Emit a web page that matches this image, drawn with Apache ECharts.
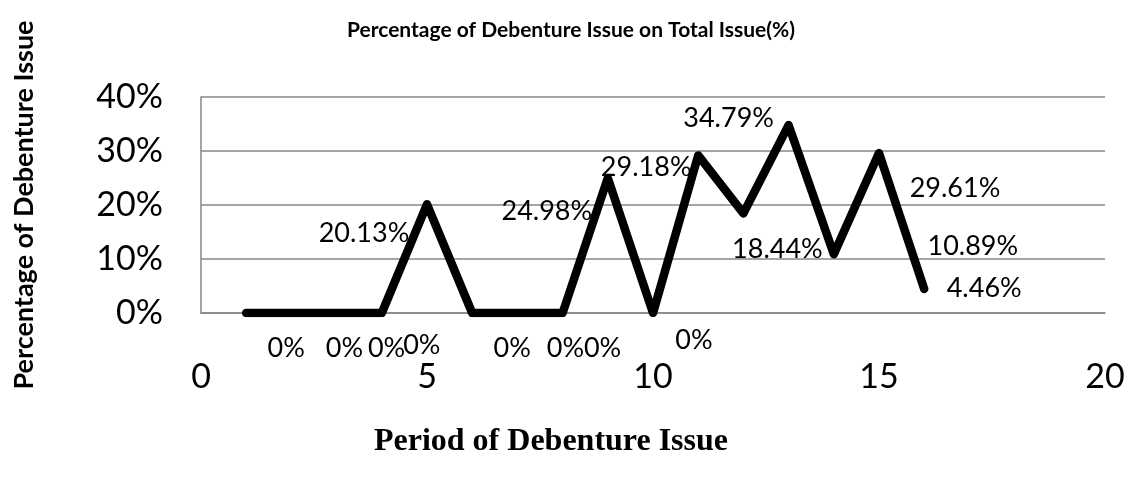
<!DOCTYPE html>
<html>
<head>
<meta charset="utf-8">
<script src="https://cdn.jsdelivr.net/npm/echarts@6/dist/echarts.min.js"></script>
<style>
  html, body { margin: 0; padding: 0; background: #ffffff; }
  #chart { width: 1140px; height: 477px; }
</style>
</head>
<body>
<div id="chart"></div>
<script>
// Period number vs. share of debenture issue (%)
const periods = [1, 2, 3, 4, 5, 6, 7, 8, 9, 10, 11, 12, 13, 14, 15, 16];
const debenturePct = [0, 0, 0, 0, 20.13, 0, 0, 0, 24.98, 0, 29.18, 18.44, 34.79, 10.89, 29.61, 4.46];
const xTicks = [0, 5, 10, 15, 20];
const yTicks = [0, 10, 20, 30, 40];

// label nudges (px) so each value label sits where the original put it
const labelNudge = [
  [40, 35], [53, 35], [50, 35], [40, 32], [-63, 29], [40, 35], [48, 35], [40, 35],
  [-61, 33], [41, 27], [-52, 12], [34, 36], [-60, -7], [139, -8], [76, 35], [60, -1],
];

const INK = "#000000";
const GRID = "#878787";
const SANS = "Lato, 'Open Sans', sans-serif";

const chart = echarts.init(document.getElementById("chart"));

chart.setOption({
  backgroundColor: "#ffffff",
  animation: false,
  textStyle: { fontFamily: SANS },
  title: [
    {
      text: "Percentage of Debenture Issue on Total Issue(%)",
      left: 566,
      textAlign: "center",
      top: 15,
      textStyle: { fontFamily: SANS, fontWeight: "bold", fontSize: 21, color: INK },
    },
    {
      text: "Period of Debenture Issue",
      left: 546,
      textAlign: "center",
      top: 421,
      textStyle: {
        fontFamily: "'Liberation Serif', 'Times New Roman', serif",
        fontWeight: "bold",
        fontSize: 32,
        color: INK,
      },
    },
  ],
  grid: { left: 201, right: 35, top: 97, bottom: 164, outerBoundsMode: "none" },
  xAxis: {
    type: "value",
    min: xTicks[0],
    max: xTicks[xTicks.length - 1],
    interval: xTicks[1] - xTicks[0],
    axisLine: { show: true, lineStyle: { color: GRID, width: 1.5 } },
    axisTick: { show: false },
    splitLine: { show: false },
    axisLabel: { color: INK, fontSize: 34, fontFamily: SANS, margin: 47 },
  },
  yAxis: {
    type: "value",
    min: yTicks[0],
    max: yTicks[yTicks.length - 1],
    interval: yTicks[1] - yTicks[0],
    name: "Percentage of Debenture Issue",
    nameLocation: "middle",
    nameRotate: 90,
    nameGap: 163,
    nameTextStyle: { fontFamily: SANS, fontWeight: "bold", fontSize: 27, color: INK },
    axisLine: { show: true, lineStyle: { color: GRID, width: 1.5 } },
    axisTick: { show: false },
    splitLine: { lineStyle: { color: GRID, width: 1.5 } },
    axisLabel: { color: INK, fontSize: 34, fontFamily: SANS, margin: 38, formatter: "{value}%" },
  },
  series: [
    {
      type: "line",
      symbol: "circle",
      symbolSize: 2,
      showSymbol: true,
      itemStyle: { color: INK },
      lineStyle: { color: INK, width: 8.5, cap: "round", join: "round" },
      label: {
        show: true,
        position: "inside",
        align: "center",
        verticalAlign: "middle",
        fontFamily: SANS,
        fontSize: 27,
        color: INK,
        formatter: (p) => p.value[1] + "%",
      },
      data: periods.map((x, i) => ({
        value: [x, debenturePct[i]],
        label: { offset: labelNudge[i] },
      })),
    },
  ],
});
</script>
</body>
</html>
